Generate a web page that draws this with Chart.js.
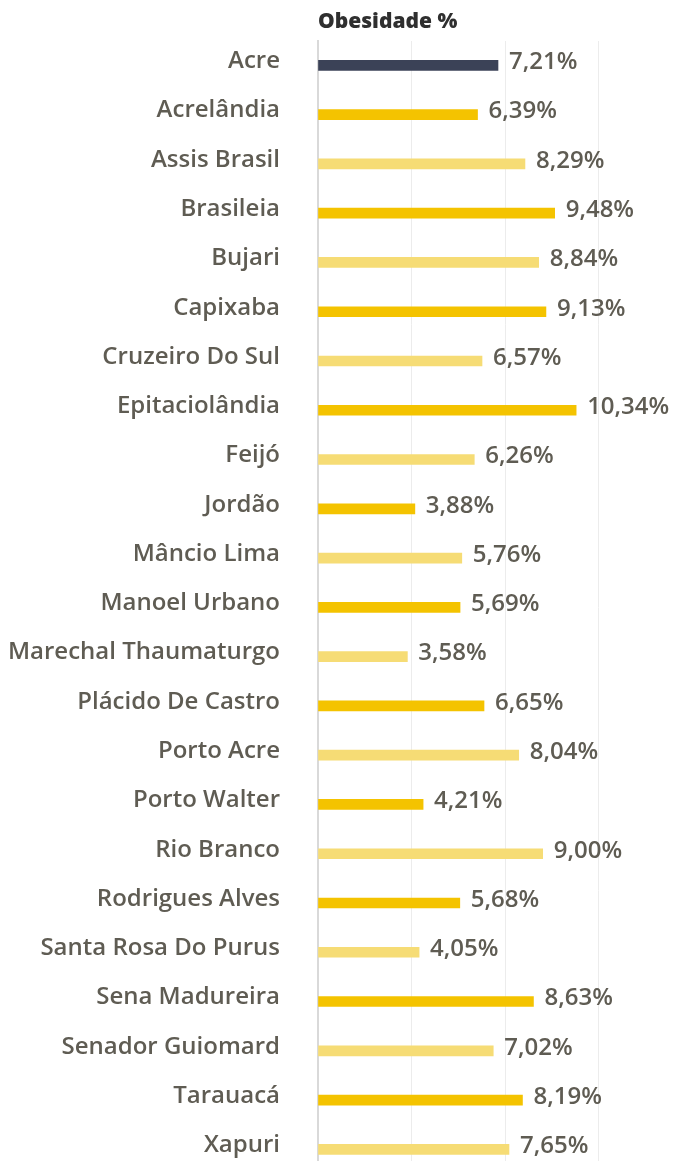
<!DOCTYPE html>
<html lang="pt-BR">
<head>
<meta charset="utf-8">
<title>Obesidade %</title>
<script src="https://cdn.jsdelivr.net/npm/chart.js@4/dist/chart.umd.min.js"></script>
<style>
  html, body { margin: 0; padding: 0; background: #fff; overflow: hidden; }
  #wrap { width: 675px; height: 1161px; overflow: hidden; }
</style>
</head>
<body>
<div id="wrap">
  <canvas id="obesidadeChart" width="675" height="1174"></canvas>
</div>
<script>
// Municípios do Acre e percentual de obesidade
const municipios = [
  'Acre', 'Acrelândia', 'Assis Brasil', 'Brasileia', 'Bujari', 'Capixaba',
  'Cruzeiro Do Sul', 'Epitaciolândia', 'Feijó', 'Jordão', 'Mâncio Lima',
  'Manoel Urbano', 'Marechal Thaumaturgo', 'Plácido De Castro', 'Porto Acre',
  'Porto Walter', 'Rio Branco', 'Rodrigues Alves', 'Santa Rosa Do Purus',
  'Sena Madureira', 'Senador Guiomard', 'Tarauacá', 'Xapuri'
];
const obesidade = [
  7.21, 6.39, 8.29, 9.48, 8.84, 9.13, 6.57, 10.34, 6.26, 3.88, 5.76, 5.69,
  3.58, 6.65, 8.04, 4.21, 9.00, 5.68, 4.05, 8.63, 7.02, 8.19, 7.65
];
const gradeX = [0, 3.75, 7.5, 11.25];

// Cores: estado em destaque, municípios alternando amarelo forte / claro
const corEstado = '#3b4257';
const corForte = '#f4c300';
const corClara = '#f6dc75';
const cores = obesidade.map((v, i) => i === 0 ? corEstado : (i % 2 === 1 ? corForte : corClara));

const formatPct = v => v.toFixed(2).replace('.', ',') + '%';

// Rótulos de valor à direita de cada barra
const rotulosValor = {
  id: 'rotulosValor',
  afterDatasetsDraw(chart) {
    const ctx = chart.ctx;
    const meta = chart.getDatasetMeta(0);
    ctx.save();
    ctx.font = '600 24px "Open Sans"';
    ctx.fillStyle = '#5f5c53';
    ctx.textBaseline = 'middle';
    ctx.textAlign = 'left';
    meta.data.forEach((bar, i) => {
      ctx.fillText(formatPct(obesidade[i]), bar.x + 11, bar.y - 3);
    });
    ctx.restore();
  }
};

new Chart(document.getElementById('obesidadeChart'), {
  type: 'bar',
  data: {
    labels: municipios,
    datasets: [{
      label: 'Obesidade %',
      data: obesidade,
      backgroundColor: cores,
      borderWidth: 0,
      barThickness: 10
    }]
  },
  options: {
    indexAxis: 'y',
    responsive: false,
    animation: false,
    layout: { padding: 0 },
    plugins: {
      legend: { display: false },
      tooltip: { enabled: false }
    },
    scales: {
      x: {
        position: 'top',
        min: 0,
        max: 14.3,
        afterBuildTicks: scale => {
          scale.ticks = gradeX.map(v => ({ value: v }));
        },
        ticks: { display: false },
        grid: { color: '#ececec', lineWidth: 1, drawTicks: false },
        border: { display: false },
        title: {
          display: true,
          text: 'Obesidade %',
          align: 'start',
          color: '#2f2f2f',
          font: { family: '"Open Sans"', size: 21, weight: '800' },
          padding: { top: 9.5, bottom: 6 }
        }
      },
      y: {
        afterFit: scale => {
          scale.width = 318;
          scale.paddingTop = 0;
          scale.paddingBottom = 0;
        },
        ticks: {
          color: '#5f5c53',
          font: { family: '"Open Sans"', size: 24, weight: '600' },
          padding: 38,
          labelOffset: -4
        },
        grid: { display: false, drawTicks: false },
        border: { display: true, color: '#d9d9d9', width: 2 }
      }
    }
  },
  plugins: [rotulosValor]
});
</script>
</body>
</html>
